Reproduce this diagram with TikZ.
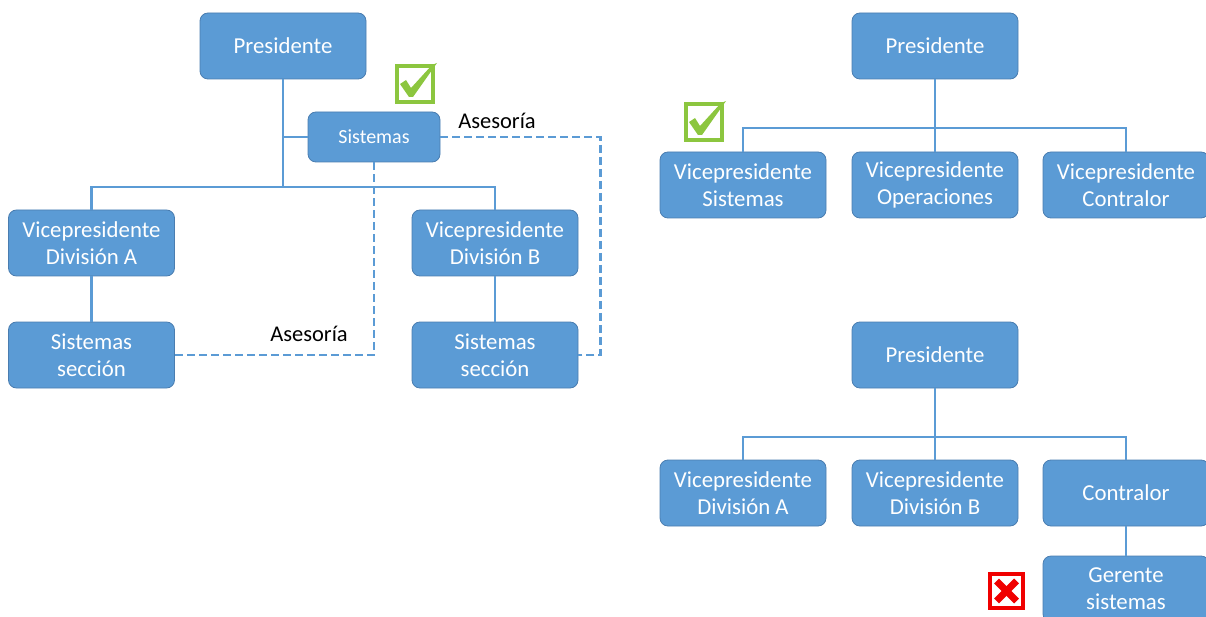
\documentclass[tikz,border=0pt]{standalone}
\usepackage{fontspec}
\setmainfont{Carlito}
\definecolor{boxblue}{HTML}{5B9BD5}
\definecolor{boxedge}{HTML}{4A7DB0}
\definecolor{linkblue}{HTML}{5B9BD5}
\definecolor{okgreen}{HTML}{8CC63F}
\definecolor{badred}{HTML}{F00000}
\tikzset{
  orgbox/.style={rectangle, rounded corners=8pt, fill=boxblue, draw=boxedge,
    line width=0.8pt, minimum width=166pt, minimum height=66pt, inner sep=2pt,
    text=white, align=center, font=\fontsize{22.8}{27}\selectfont},
  smallbox/.style={orgbox, minimum width=132pt, minimum height=50pt,
    font=\fontsize{20}{24}\selectfont},
  link/.style={draw=linkblue, line width=2.8pt},
  dlink/.style={draw=linkblue, line width=2.8pt, dash pattern=on 8pt off 4pt},
  note/.style={text=black, font=\fontsize{22.5}{27}\selectfont, inner sep=0pt},
  okbox/.style={draw=okgreen, line width=4pt, minimum size=36pt, inner sep=0pt},
  badbox/.style={draw=badred, line width=4pt, minimum width=33pt, minimum height=34pt, inner sep=0pt},
}
\begin{document}
\begin{tikzpicture}[x=1pt, y=-1pt]
\useasboundingbox (0,0) rectangle (1206,617);

% ---------- left chart: central systems with advisory links ----------
\node[orgbox] (lp) at (283,46) {Presidente};
\node[smallbox] (ls) at (374,137) {Sistemas};
\node[orgbox] (lva) at (91.5,243) {Vicepresidente\\División A};
\node[orgbox] (lvb) at (495,243) {Vicepresidente\\División B};
\node[orgbox] (lsa) at (91.5,355) {Sistemas\\sección};
\node[orgbox] (lsb) at (495,355) {Sistemas\\sección};
\coordinate (lbus) at (283,187);

\draw[link] (lp.south) -- (lbus);
\draw[link] (lp.south |- ls.west) -- (ls.west);
\draw[link] (lva.north) |- (lbus) -| (lvb.north);
\draw[link] (lva) -- (lsa);
\draw[link] (lvb) -- (lsb);

\draw[dlink] (ls.east) -- ++(160,0) |- (lsb.east);
\draw[dlink] (ls.south) |- (lsa.east);

\node[note] (adv1) at (497,121) {Asesoría};
\node[note] (adv2) at (309,334) {Asesoría};

\node[okbox] (ok1) at (415,84) {};
\fill[okgreen] (ok1.center) ++(-15,0) -- ++(6,-4) -- ++(5,8) -- ++(21,-23)
  -- ++(5,-2) -- ++(-24,34) -- ++(-4,0) -- cycle;

% ---------- right top chart: systems vice-presidency ----------
\node[orgbox] (rp) at (935,46) {Presidente};
\node[orgbox] (rv1) at (743,185) {Vicepresidente\\Sistemas};
\node[orgbox] (rv2) at (935,185) {Vicepresidente\\Operaciones};
\node[orgbox] (rv3) at (1126,185) {Vicepresidente\\Contralor};
\coordinate (rbus) at (935,128);

\draw[link] (rp.south) -- (rv2.north);
\draw[link] (rv1.north) |- (rbus) -| (rv3.north);

\node[okbox] (ok2) at (704,122) {};
\fill[okgreen] (ok2.center) ++(-15,0) -- ++(6,-4) -- ++(5,8) -- ++(21,-23)
  -- ++(5,-2) -- ++(-24,34) -- ++(-4,0) -- cycle;

% ---------- right bottom chart: systems under the controller ----------
\node[orgbox] (bp) at (935,355) {Presidente};
\node[orgbox] (bv1) at (743,493) {Vicepresidente\\División A};
\node[orgbox] (bv2) at (935,493) {Vicepresidente\\División B};
\node[orgbox] (bv3) at (1126,493) {Contralor};
\node[orgbox] (bg) at (1126,589) {Gerente\\sistemas};
\coordinate (bbus) at (935,437);

\draw[link] (bp.south) -- (bv2.north);
\draw[link] (bv1.north) |- (bbus) -| (bv3.north);
\draw[link] (bv3) -- (bg);

\node[badbox] (bad) at (1006.5,591) {};
\draw[badred, line width=7pt] (bad.center) ++(-10,-10) -- ++(20,20);
\draw[badred, line width=7pt] (bad.center) ++(10,-10) -- ++(-20,20);
\end{tikzpicture}
\end{document}
